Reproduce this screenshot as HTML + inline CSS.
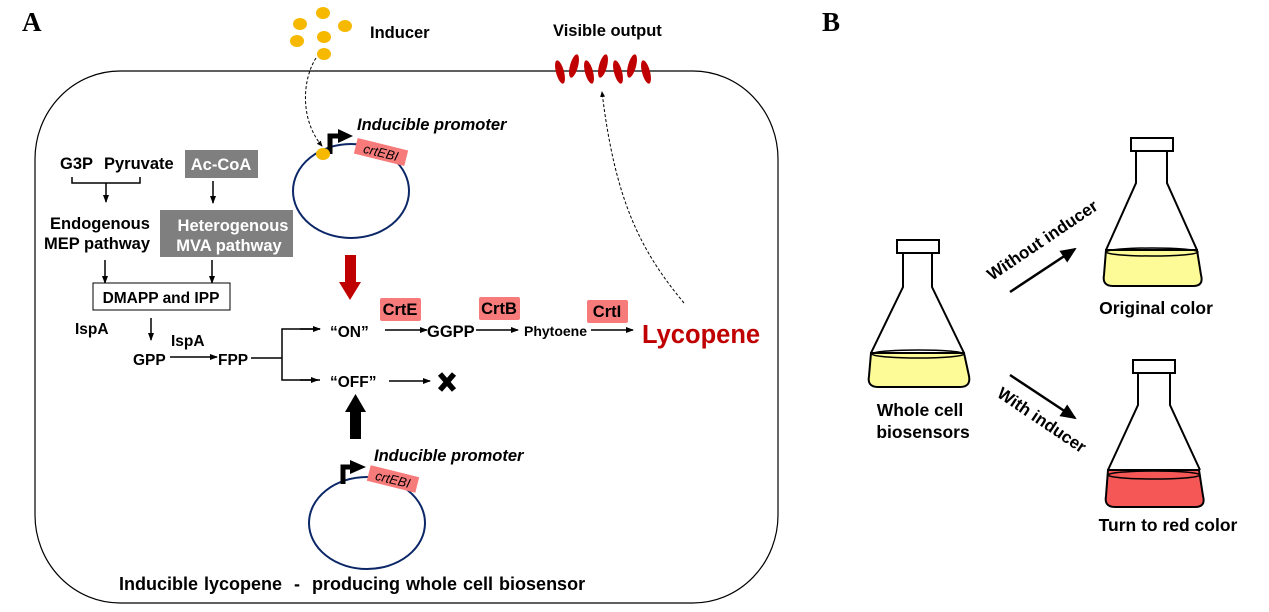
<!DOCTYPE html>
<html><head><meta charset="utf-8"><style>
html,body{margin:0;padding:0;background:#fff;}
svg{display:block;font-family:"Liberation Sans",Arial,sans-serif;}
.b{font-weight:bold;}
</style></head><body>
<svg width="1269" height="612" viewBox="0 0 1269 612" xmlns="http://www.w3.org/2000/svg">
<defs>
<marker id="ah" markerWidth="8" markerHeight="6" refX="7" refY="3" orient="auto" markerUnits="userSpaceOnUse"><path d="M0,0 L8,3 L0,6 Z" fill="#000"/></marker>
<marker id="ahs" markerWidth="6" markerHeight="5" refX="5" refY="2.5" orient="auto" markerUnits="userSpaceOnUse"><path d="M0,0 L6,2.5 L0,5 Z" fill="#000"/></marker>
<marker id="ahb" markerWidth="16" markerHeight="14" refX="14" refY="7" orient="auto" markerUnits="userSpaceOnUse"><path d="M0,0 L16,7 L0,14 Z" fill="#000"/></marker>
</defs>
<text x="22" y="31" font-family="Liberation Serif,serif" font-weight="bold" font-size="27">A</text>
<text x="822" y="31" font-family="Liberation Serif,serif" font-weight="bold" font-size="27">B</text>

<rect x="35" y="71" width="743" height="532" rx="85" ry="88" fill="none" stroke="#000" stroke-width="1.2"/>

<g fill="#f6b900">
<ellipse cx="323" cy="13" rx="7" ry="6"/><ellipse cx="300" cy="24" rx="7" ry="6"/><ellipse cx="345" cy="26" rx="7" ry="6"/>
<ellipse cx="297" cy="41" rx="7" ry="6"/><ellipse cx="324" cy="37" rx="7" ry="6"/><ellipse cx="324" cy="54" rx="7" ry="6"/>
</g>
<text x="370" y="38" class="b" font-size="16.5">Inducer</text>
<path d="M316,58 C302,80 300,120 322,146" fill="none" stroke="#000" stroke-dasharray="3,2" stroke-width="1" marker-end="url(#ahs)"/>

<text x="553" y="36" class="b" font-size="16.5">Visible output</text>
<g fill="#c00000">
<ellipse cx="560" cy="72" rx="4" ry="12" transform="rotate(-15 560 72)"/>
<ellipse cx="574" cy="66" rx="4" ry="12" transform="rotate(15 574 66)"/>
<ellipse cx="589" cy="72" rx="4" ry="12" transform="rotate(-15 589 72)"/>
<ellipse cx="603" cy="66" rx="4" ry="12" transform="rotate(15 603 66)"/>
<ellipse cx="618" cy="72" rx="4" ry="12" transform="rotate(-15 618 72)"/>
<ellipse cx="632" cy="66" rx="4" ry="12" transform="rotate(15 632 66)"/>
<ellipse cx="646" cy="72" rx="4" ry="12" transform="rotate(-15 646 72)"/>
</g>
<path d="M684,303 C640,250 615,200 602,92" fill="none" stroke="#000" stroke-dasharray="3,2" stroke-width="1" marker-end="url(#ahs)"/>

<ellipse cx="351" cy="191" rx="58" ry="47" fill="none" stroke="#0b2768" stroke-width="2"/>
<path d="M330,154 V136 H340" fill="none" stroke="#000" stroke-width="5"/>
<path d="M338,129 L353,136 L338,143 Z" fill="#000"/>
<ellipse cx="323" cy="154" rx="7" ry="6" fill="#f6b900"/>
<text x="357" y="130" class="b" font-style="italic" font-size="16.5">Inducible promoter</text>
<g transform="rotate(14 381 152)"><rect x="355" y="144" width="52" height="16" fill="#f77b7b"/><text x="381" y="157" text-anchor="middle" font-style="italic" font-size="13">crtEBI</text></g>

<path d="M345,255 H356 V282 H361 L350,300 L339,282 H345 Z" fill="#c00000"/>

<text x="60" y="169" class="b" font-size="16.5">G3P</text>
<text x="104" y="169" class="b" font-size="16.5">Pyruvate</text>
<path d="M72,177 V183 H140 V177" fill="none" stroke="#000" stroke-width="1.5"/>
<line x1="106" y1="183" x2="106" y2="202" stroke="#000" stroke-width="1.5" marker-end="url(#ah)"/>
<rect x="185" y="150" width="73" height="28" fill="#7f7f7f"/>
<text x="221" y="170" text-anchor="middle" class="b" font-size="16.5" fill="#fff">Ac-CoA</text>
<line x1="213" y1="181" x2="213" y2="203" stroke="#000" stroke-width="1.5" marker-end="url(#ah)"/>
<text x="100" y="229" text-anchor="middle" class="b" font-size="16.5">Endogenous</text>
<text x="97" y="249" text-anchor="middle" class="b" font-size="16.5">MEP pathway</text>
<rect x="160" y="210" width="133" height="47" fill="#7f7f7f"/>
<text x="233" y="231" text-anchor="middle" class="b" font-size="16.5" fill="#fff">Heterogenous</text>
<text x="229" y="251" text-anchor="middle" class="b" font-size="16.5" fill="#fff">MVA pathway</text>
<line x1="105" y1="260" x2="105" y2="283" stroke="#000" stroke-width="1.5" marker-end="url(#ah)"/>
<line x1="212" y1="260" x2="212" y2="283" stroke="#000" stroke-width="1.5" marker-end="url(#ah)"/>
<rect x="93" y="283" width="137" height="27" fill="#fff" stroke="#000" stroke-width="1"/>
<text x="161" y="303" text-anchor="middle" class="b" font-size="15.5">DMAPP and IPP</text>
<text x="75" y="334" class="b" font-size="15.5">IspA</text>
<line x1="151" y1="318" x2="151" y2="340" stroke="#000" stroke-width="1.5" marker-end="url(#ah)"/>
<text x="171" y="346" class="b" font-size="15.5">IspA</text>
<text x="133" y="365" class="b" font-size="15.5">GPP</text>
<line x1="170" y1="357" x2="217" y2="357" stroke="#000" stroke-width="1.5" marker-end="url(#ah)"/>
<text x="218" y="365" class="b" font-size="15.5">FPP</text>
<path d="M251,358 H282 V329 H320 M282,358 V380 H320" fill="none" stroke="#000" stroke-width="1.5"/>
<line x1="300" y1="329" x2="320" y2="329" stroke="#000" stroke-width="1.5" marker-end="url(#ah)"/>
<line x1="300" y1="380" x2="318" y2="380" stroke="#000" stroke-width="1.5" marker-end="url(#ah)"/>

<text x="330" y="337" class="b" font-size="15.5">“ON”</text>
<line x1="385" y1="330" x2="427" y2="330" stroke="#000" stroke-width="1.5" marker-end="url(#ah)"/>
<text x="427" y="337" class="b" font-size="16.5">GGPP</text>
<line x1="476" y1="330" x2="518" y2="330" stroke="#000" stroke-width="1.5" marker-end="url(#ah)"/>
<text x="524" y="336" class="b" font-size="14">Phytoene</text>
<line x1="591" y1="330" x2="633" y2="330" stroke="#000" stroke-width="1.5" marker-end="url(#ah)"/>
<text x="642" y="343" class="b" font-size="25.5" fill="#c00000">Lycopene</text>
<rect x="380" y="298" width="41" height="23" rx="2" fill="#f77b7b"/>
<text x="400" y="315" text-anchor="middle" class="b" font-size="16.5">CrtE</text>
<rect x="479" y="297" width="41" height="23" rx="2" fill="#f77b7b"/>
<text x="499" y="314" text-anchor="middle" class="b" font-size="16.5">CrtB</text>
<rect x="587" y="300" width="41" height="23" rx="2" fill="#f77b7b"/>
<text x="607" y="317" text-anchor="middle" class="b" font-size="16.5">CrtI</text>

<text x="330" y="387" class="b" font-size="15.5">“OFF”</text>
<line x1="389" y1="381" x2="430" y2="381" stroke="#000" stroke-width="1.5" marker-end="url(#ah)"/>
<path d="M440,374 L454,390 M454,374 L440,390" stroke="#000" stroke-width="5.5"/>
<path d="M350,439 H361 V412 H366 L355.5,394 L345,412 H350 Z" fill="#000"/>

<ellipse cx="367" cy="523" rx="58" ry="46" fill="none" stroke="#0b2768" stroke-width="2"/>
<path d="M343,484 V467 H353" fill="none" stroke="#000" stroke-width="5"/>
<path d="M350,460 L366,467 L350,474 Z" fill="#000"/>
<text x="374" y="461" class="b" font-style="italic" font-size="16.5">Inducible promoter</text>
<g transform="rotate(14 393 479)"><rect x="368" y="471" width="50" height="16" fill="#f77b7b"/><text x="393" y="484" text-anchor="middle" font-style="italic" font-size="13">crtEBI</text></g>

<text x="119" y="590" class="b" font-size="18" xml:space="preserve" word-spacing="1">Inducible lycopene  -  producing whole cell biosensor</text>

<g stroke="#000" stroke-width="2">
<rect x="897" y="240" width="42" height="13" fill="#fff"/>
<path d="M871,353 L903,287 V253 M932,253 V287 L964,353" fill="none"/>
<path d="M871,353 L869,376 Q867,387 878,387 H960 Q971,387 969,376 L964,353 Z" fill="#fdfa98"/>
<ellipse cx="918" cy="354" rx="46" ry="4" fill="none" stroke-width="1.5"/>

<rect x="1131" y="138" width="42" height="13" fill="#fff"/>
<path d="M1106,250 L1136,183 V151 M1167,151 V183 L1197,250" fill="none"/>
<path d="M1106,250 L1104,275 Q1102,286 1113,286 H1193 Q1204,286 1201,275 L1197,250 Z" fill="#fdfa98"/>
<ellipse cx="1152" cy="252" rx="46" ry="4" fill="none" stroke-width="1.5"/>

<rect x="1133" y="360" width="42" height="13" fill="#fff"/>
<path d="M1108,470 L1138,405 V373 M1170,373 V405 L1200,470" fill="none"/>
<path d="M1108,470 L1106,496 Q1104,507 1115,507 H1195 Q1206,507 1203,496 L1199,470 Z" fill="#f55757"/>
<ellipse cx="1154" cy="475" rx="46" ry="4" fill="none" stroke-width="1.5"/>
</g>
<text x="920" y="416" text-anchor="middle" class="b" font-size="17.5">Whole cell</text>
<text x="923" y="438" text-anchor="middle" class="b" font-size="17.5">biosensors</text>
<text x="1156" y="314" text-anchor="middle" class="b" font-size="17.5">Original color</text>
<text x="1168" y="531" text-anchor="middle" class="b" font-size="17.5">Turn to red color</text>
<line x1="1010" y1="292" x2="1075" y2="249" stroke="#000" stroke-width="2.5" marker-end="url(#ahb)"/>
<line x1="1010" y1="375" x2="1075" y2="418" stroke="#000" stroke-width="2.5" marker-end="url(#ahb)"/>
<text x="0" y="0" class="b" font-size="17" transform="translate(992,281) rotate(-34)">Without inducer</text>
<text x="0" y="0" class="b" font-size="17" transform="translate(996,396) rotate(34)">With inducer</text>
</svg>
</body></html>
